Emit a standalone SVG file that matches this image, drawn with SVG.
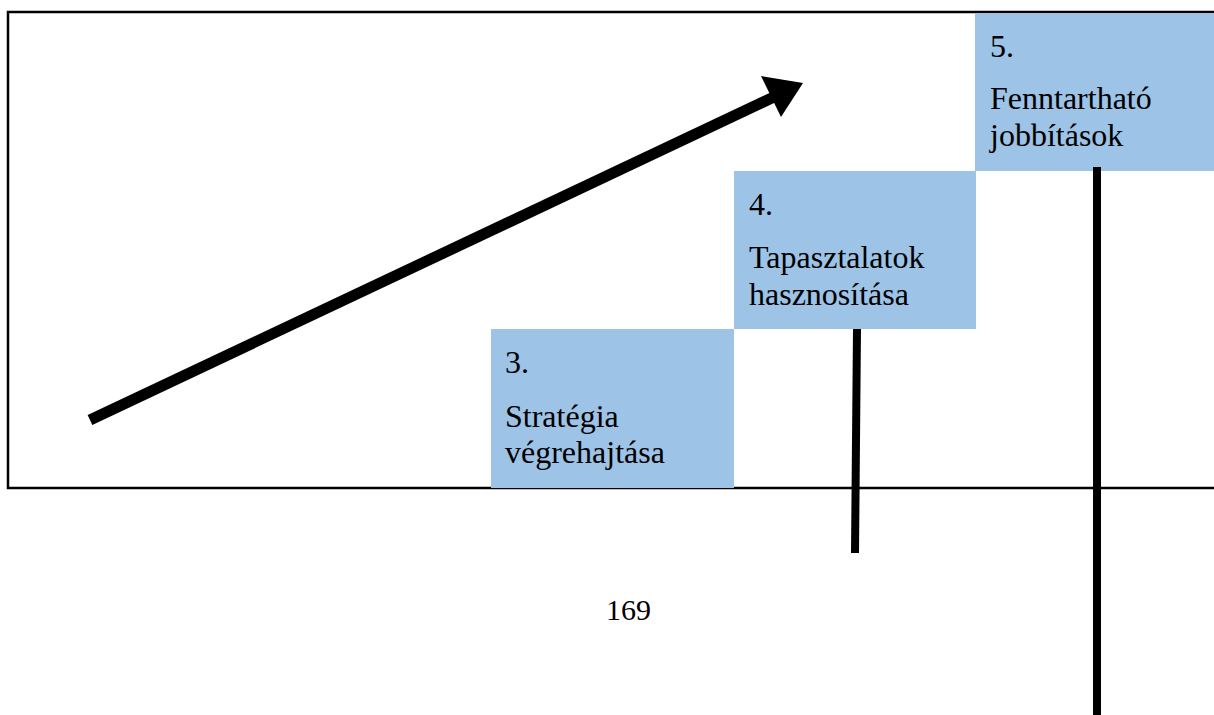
<svg xmlns="http://www.w3.org/2000/svg" width="1214" height="715" viewBox="0 0 1214 715">
<style>
.box{fill:#9DC3E6;}
.t{font-family:"Liberation Serif","Times New Roman",serif;font-size:32px;fill:#000;}
.bar{stroke:#000;stroke-width:8;fill:none;}
.frame{stroke:#000;stroke-width:2.5;fill:none;}
</style>
<rect x="0" y="0" width="1214" height="715" fill="#fff"/>
<g id="frame">
<polyline class="frame" points="1214,12 8,12 8,488 1214,488"/>
</g>
<g id="step3">
<rect class="box" x="491" y="329" width="243" height="159"/>
<text class="t" x="505" y="373">3.</text>
<text class="t" x="505" y="427">Stratégia</text>
<text class="t" x="505" y="463">végrehajtása</text>
</g>
<g id="step4">
<rect class="box" x="734" y="171" width="242" height="158"/>
<text class="t" x="749" y="215">4.</text>
<text class="t" x="749" y="268">Tapasztalatok</text>
<text class="t" x="749" y="305">hasznosítása</text>
</g>
<g id="step5">
<rect class="box" x="975" y="13" width="239" height="158"/>
<text class="t" x="990" y="57">5.</text>
<text class="t" x="990" y="109">Fenntartható</text>
<text class="t" x="990" y="146">jobbítások</text>
</g>
<g id="connectors">
<line x1="90" y1="420" x2="776" y2="96" stroke="#000" stroke-width="11"/>
<polygon points="803,83 761,76 781,117" fill="#000"/>
<line class="bar" x1="857" y1="329" x2="855" y2="553"/>
<line class="bar" x1="1097" y1="167" x2="1097" y2="715"/>
</g>
<text class="t" x="606" y="620" style="font-size:30px">169</text>
</svg>
